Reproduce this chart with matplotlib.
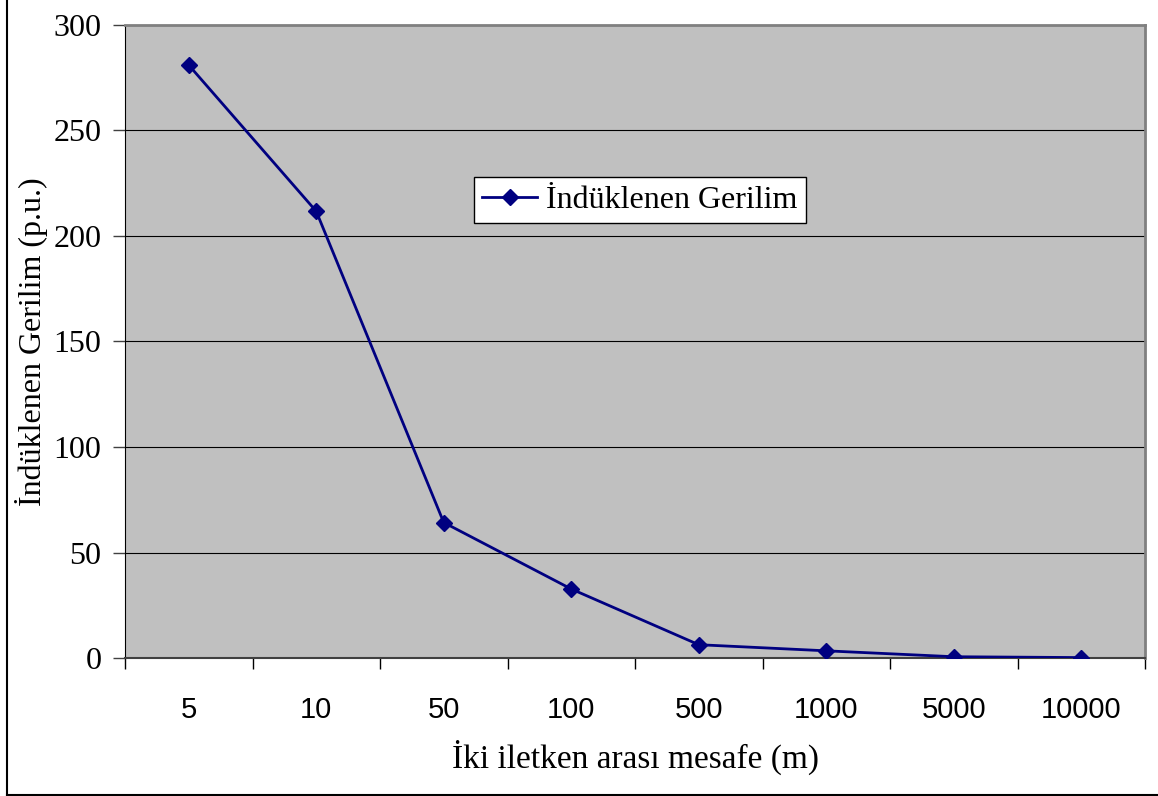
import matplotlib
matplotlib.use("Agg")
import matplotlib.pyplot as plt
from matplotlib.lines import Line2D
import numpy as np

# distances between the two conductors (category labels)
distances = ["5", "10", "50", "100", "500", "1000", "5000", "10000"]
# induced voltage (p.u.)
voltage = [281, 211.7, 64.2, 32.7, 6.3, 3.4, 0.6, 0.2]
series_name = "İndüklenen Gerilim"
y_ticks = [0, 50, 100, 150, 200, 250, 300]

serif = "Liberation Serif"
sans = "Liberation Sans"

fig = plt.figure(figsize=(11.58, 7.96), dpi=100)
ax = fig.add_axes([125 / 1158, 138 / 796, 1020 / 1158, 633 / 796])
ax.set_facecolor("#C0C0C0")

x = np.arange(len(distances))
ax.plot(x, voltage, color="#000080", lw=2, marker="D", markersize=8,
        label=series_name, zorder=3)

ax.set_xlim(-0.5, len(distances) - 0.5)
ax.set_ylim(0, 300)
ax.set_yticks(y_ticks)
ax.set_yticklabels([str(v) for v in y_ticks], fontfamily=serif, fontsize=23)
ax.yaxis.grid(True, color="black", lw=0.8)
ax.set_axisbelow(True)

# category labels centered, ticks at category boundaries
ax.set_xticks(x)
ax.set_xticklabels(distances, fontfamily=sans, fontsize=21)
ax.tick_params(axis="x", which="major", length=0, pad=27)
ax.set_xticks(np.arange(-0.5, len(distances)), minor=True)
ax.tick_params(axis="x", which="minor", length=8, width=1, color="black", direction="out")
ax.tick_params(axis="y", length=9, width=1, color="#404040", direction="out", pad=8)

for side in ["top", "right"]:
    ax.spines[side].set_color("#808080")
    ax.spines[side].set_linewidth(2)
ax.spines["left"].set_color("black")
ax.spines["bottom"].set_color("#404040")
ax.spines["bottom"].set_linewidth(1.5)

ax.set_xlabel("İki iletken arası mesafe (m)", fontfamily=serif, fontsize=24, labelpad=12)
ax.set_ylabel("İndüklenen Gerilim (p.u.)", fontfamily=serif, fontsize=23, labelpad=4)

leg = ax.legend(loc="center", bbox_to_anchor=(0.505, 0.7235), prop={"family": serif, "size": 23},
                frameon=True, fancybox=False, edgecolor="black", facecolor="white",
                framealpha=1, handlelength=1.7, handletextpad=0.3, borderpad=0.25,
                borderaxespad=0)
leg.get_frame().set_linewidth(1)

# outer chart border (left and bottom visible in reference)
fig.add_artist(Line2D([7 / 1158, 7 / 1158], [1 / 796, 1], color="black", lw=1.5))
fig.add_artist(Line2D([7 / 1158, 1], [1.5 / 796, 1.5 / 796], color="black", lw=1.5))

fig.savefig("out.png", dpi=100)
